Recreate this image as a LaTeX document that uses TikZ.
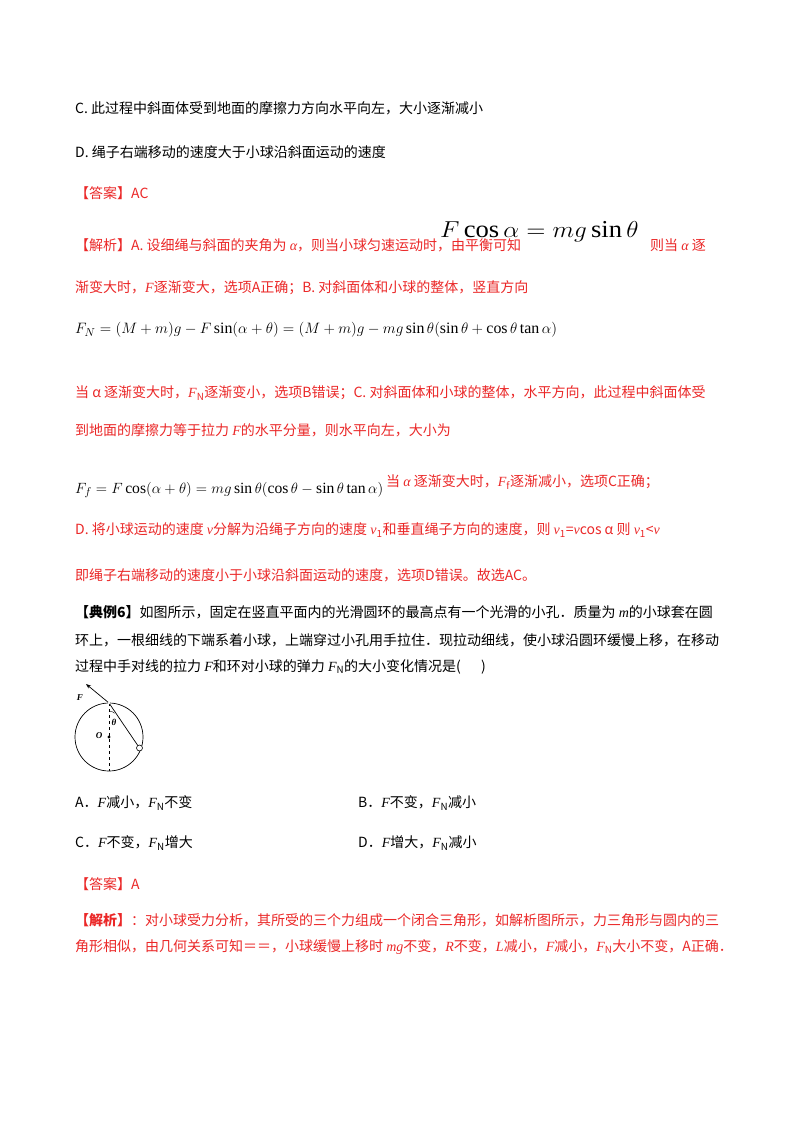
\documentclass[tikz,border=0pt]{standalone}
\usepackage{fontspec}
\setmainfont{Liberation Serif}
\newfontfamily\cjk{Noto Sans CJK SC}
\usetikzlibrary{arrows.meta}
\definecolor{ans}{RGB}{235,40,40}
\newcommand{\vv}[1]{{\rmfamily\itshape #1}}
\begin{document}
\begin{tikzpicture}[x=1pt,y=-1pt,
  t/.style={anchor=west,inner sep=0pt,font=\cjk\fontsize{14}{16}\selectfont},
  r/.style={t,text=ans},
  m/.style={anchor=west,inner sep=0pt,font=\fontsize{15.2}{17}\selectfont}]
\fill[white] (0,0) rectangle (800,1132);
\useasboundingbox (0,0) rectangle (800,1132);
\node[t] (l1) at (75,108) {C.\ 此过程中斜面体受到地面的摩擦力方向水平向左，大小逐渐减小};
\node[t] (l2) at (75,152) {D.\ 绳子右端移动的速度大于小球沿斜面运动的速度};
\node[r] (l3) at (75,193) {【答案】AC};
\node[r] (l4) at (75,245) {【解析】A.\ 设细绳与斜面的夹角为 \vv{α}，则当小球匀速运动时，由平衡可知};
\node[m] (f1) at (440,232) {\scalebox{1.75}[1.6]{$F\cos\alpha=mg\sin\theta$}};
\node[r] (l4b) at (650,245) {则当 \vv{α} 逐};
\node[r] (l5) at (75,288) {渐变大时，\vv{F}逐渐变大，选项A正确；B.\ 对斜面体和小球的整体，竖直方向};
\node[m] (f2) at (75,330) {\scalebox{1.045}{$F_N=(M+m)g-F\sin(\alpha+\theta)=(M+m)g-mg\sin\theta(\sin\theta+\cos\theta\tan\alpha)$}};
\node[r] (l6) at (75,393) {当 α 逐渐变大时，\vv{F}\textsubscript{N}逐渐变小，选项B错误；C.\ 对斜面体和小球的整体，水平方向，此过程中斜面体受};
\node[r] (l7) at (75,430) {到地面的摩擦力等于拉力 \vv{F}的水平分量，则水平向左，大小为};
\node[m] (f3) at (75,490) {\scalebox{1.03}{$F_f=F\cos(\alpha+\theta)=mg\sin\theta(\cos\theta-\sin\theta\tan\alpha)$}};
\node[r] (l8) at (386,482) {当 \vv{α} 逐渐变大时，\vv{F}\textsubscript{f}逐渐减小，选项C正确；};
\node[r] (l9) at (75,530) {D.\ 将小球运动的速度 \vv{v}分解为沿绳子方向的速度 \vv{v}\textsubscript{1}和垂直绳子方向的速度，则 \vv{v}\textsubscript{1}=\vv{v}cos α 则 \vv{v}\textsubscript{1}<\vv{v}};
\node[r] (l10) at (75,575) {即绳子右端移动的速度小于小球沿斜面运动的速度，选项D错误。故选AC。};
\node[t] (l11) at (75,612) {\textbf{【典例6】}如图所示，固定在竖直平面内的光滑圆环的最高点有一个光滑的小孔．质量为 \vv{m}的小球套在圆};
\node[t] (l12) at (75,640) {环上，一根细线的下端系着小球，上端穿过小孔用手拉住．现拉动细线，使小球沿圆环缓慢上移，在移动};
\node[t] (l13) at (75,667) {过程中手对线的拉力 \vv{F}和环对小球的弹力 \vv{F}\textsubscript{N}的大小变化情况是(\quad\ \ )};
% diagram
\coordinate (c) at (109,737);
\coordinate (top) at (109,703);
\coordinate (bot) at (109,771);
\coordinate (ball) at (139.5,748);
\coordinate (fend) at (86,684);
\draw[line width=0.7pt] (c) circle (34);
\draw[dashed,line width=0.5pt] (top) -- (bot);
\draw[line width=0.7pt] (ball) -- (top);
\draw[-{Stealth[length=5pt]},line width=0.7pt] (top) -- (fend);
\fill (c) circle (1.6);
\draw[fill=white,line width=0.6pt] (ball) circle (3);
\fill[white] (top) circle (1.3);
\draw[line width=0.4pt] (109,711) arc[start angle=-90,end angle=-46,radius=8];
\node[font=\bfseries\itshape\fontsize{9}{10}\selectfont] (th) at (114,722) {θ};
\node[font=\bfseries\itshape\fontsize{9}{10}\selectfont,anchor=east] (O) at (106,736) {O};
\node[font=\bfseries\itshape\fontsize{9}{10}\selectfont] (F) at (80,698) {F};
% choices
\node[t] (a) at (75,803) {A．\vv{F}减小，\vv{F}\textsubscript{N}不变};
\node[t] (b) at (358,803) {B．\vv{F}不变，\vv{F}\textsubscript{N}减小};
\node[t] (cc) at (75,843) {C．\vv{F}不变，\vv{F}\textsubscript{N}增大};
\node[t] (d) at (358,843) {D．\vv{F}增大，\vv{F}\textsubscript{N}减小};
\node[r] (l14) at (75,884) {【答案】A};
\node[r] (l15) at (75,920) {\textbf{【解析】}：对小球受力分析，其所受的三个力组成一个闭合三角形，如解析图所示，力三角形与圆内的三};
\node[r] (l16) at (75,947) {角形相似，由几何关系可知＝＝，小球缓慢上移时 \vv{mg}不变，\vv{R}不变，\vv{L}减小，\vv{F}减小，\vv{F}\textsubscript{N}大小不变，A正确．};
\end{tikzpicture}
\end{document}
